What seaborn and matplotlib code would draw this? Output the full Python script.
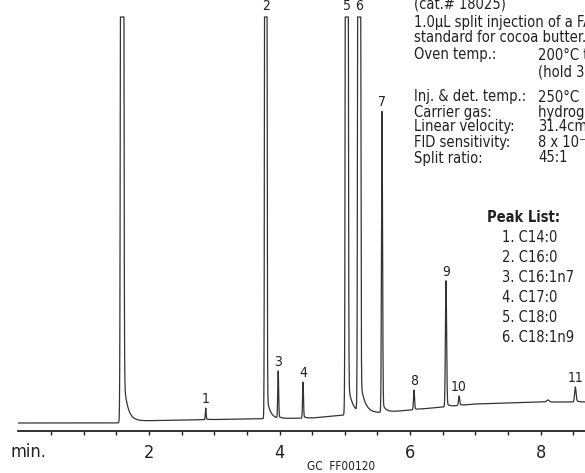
import numpy as np
import pandas as pd
import matplotlib
matplotlib.use("Agg")
import matplotlib.pyplot as plt
import seaborn as sns

# ---------------- data ----------------
peak_ids = ["", "1", "2", "3", "4", "5", "6", "7", "8", "9", "10", "", "11"]
retention_min = [1.59, 2.87, 3.79, 3.98, 4.36, 5.03, 5.22, 5.57, 6.06, 6.55, 6.75, 8.11, 8.53]
peak_height = [6000, 11, 5000, 46, 35, 5000, 5000, 296, 19, 124, 9, 2, 14]
peak_sigma = [0.012, 0.006, 0.009, 0.007, 0.007, 0.011, 0.011, 0.008, 0.008, 0.009, 0.009, 0.02, 0.011]
tail_amp = [64, 1, 30, 2, 2, 40, 40, 10, 1, 4, 1, 0, 2]
tail_tau = [0.06, 0.03, 0.05, 0.04, 0.04, 0.07, 0.07, 0.05, 0.04, 0.04, 0.04, 0.05, 0.04]

baseline_t = [0.0, 1.5, 1.8, 2.5, 3.5, 4.5, 5.0, 5.5, 6.0, 6.5, 7.0, 8.0, 8.7]
baseline_y = [8, 8, 10, 11, 12, 13, 16, 18, 21, 24, 27, 29, 29]

peak_list = ["1. C14:0", "2. C16:0", "3. C16:1n7", "4. C17:0", "5. C18:0", "6. C18:1n9"]
intro_lines = ["(cat.# 18025)", "1.0µL split injection of a FAME", "standard for cocoa butter."]
cond_labels = ["Oven temp.:", "", "Inj. & det. temp.:", "Carrier gas:",
               "Linear velocity:", "FID sensitivity:", "Split ratio:"]
cond_values = ["200°C to 240°C @ 4°C/min.", "(hold 3 min.)", "250°C",
               "hydrogen, constant pressure", "31.4cm/sec.", "8 x 10⁻¹¹ AFS", "45:1"]
major_ticks = [2, 4, 6, 8]

# ---------------- build trace ----------------
t = np.linspace(0.0, 8.7, 8000)
y = np.interp(t, baseline_t, baseline_y).astype(float)
for rt, h, s, a, tau in zip(retention_min, peak_height, peak_sigma, tail_amp, tail_tau):
    d = t - rt
    y += h * np.exp(-0.5 * (d / s) ** 2)
    y += a * np.exp(-np.clip(d, 0, None) / tau) / (1 + np.exp(-d / (s * 0.7)))
CAP = 414
y_plot = np.minimum(y, CAP)
df = pd.DataFrame({"time": t, "signal": y_plot})

# ---------------- fonts ----------------
sns.set_theme(style="white")
plt.rcParams["font.family"] = ["DejaVu Sans"]
plt.rcParams["font.stretch"] = "condensed"
INK = "#222222"

W, H = 585, 473
fig = plt.figure(figsize=(W / 100, H / 100), dpi=100)
ax_left, ax_bottom_px, ax_top_px = 18.3, 431, 11
ax = fig.add_axes([ax_left / W, (H - ax_bottom_px) / H, (W - ax_left) / W,
                   (ax_bottom_px - ax_top_px) / H])
sns.lineplot(data=df, x="time", y="signal", ax=ax, color="#333333", linewidth=0.9)
ax.set_xlim(0, (W - ax_left) / 65.3)
ax.set_ylim(0, ax_bottom_px - ax_top_px)

for side in ["top", "right", "left"]:
    ax.spines[side].set_visible(False)
ax.spines["bottom"].set_linewidth(1.3)
ax.spines["bottom"].set_color(INK)
ax.set_yticks([])
ax.set_xticks(major_ticks)
ax.set_xticks(np.arange(0.5, 8.7, 0.5), minor=True)
ax.tick_params(axis="x", which="both", direction="out", length=3, width=1,
               color=INK, bottom=True)
ax.tick_params(axis="x", which="major", labelsize=13, pad=6, labelcolor=INK)
ax.set_xlabel("")
ax.set_ylabel("")

# peak labels
for pid, rt in zip(peak_ids, retention_min):
    if not pid:
        continue
    i = np.argmin(np.abs(t - rt))
    top = min(y[i], CAP + 2)
    ax.annotate(pid, (rt, top), xytext=(0, 1.5), textcoords="offset points",
                ha="center", va="bottom", fontsize=10, color=INK,
                annotation_clip=False)

def ftxt(x, yy, s, **kw):
    fig.text(x / W, 1 - yy / H, s, va="center", color=INK, **kw)

ftxt(10, 452, "min.", fontsize=13, ha="left")
ftxt(341, 466, "GC  FF00120", fontsize=8.5, ha="center")

# conditions text block
TS = 10.5
for yy, line in zip([4, 22, 38], intro_lines):
    ftxt(414, yy, line, fontsize=TS)
rows_y = [55, 72, 97, 112, 126, 142, 158]
for yy, lab, val in zip(rows_y, cond_labels, cond_values):
    if lab:
        ftxt(414, yy, lab, fontsize=TS)
    ftxt(538, yy, val, fontsize=TS)

ftxt(487, 217, "Peak List:", fontsize=TS, fontweight="bold")
for k, item in enumerate(peak_list):
    ftxt(502, 237 + 20 * k, item, fontsize=TS)

fig.savefig("out.png", dpi=100)
